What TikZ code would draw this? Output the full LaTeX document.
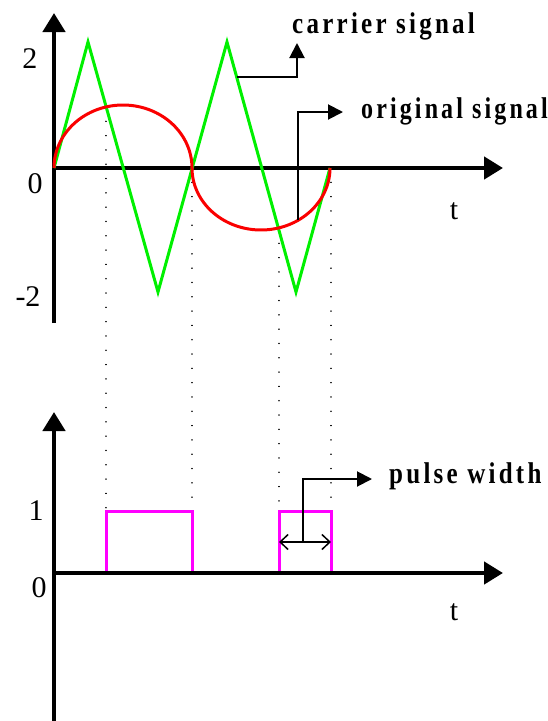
\documentclass[tikz,border=0pt]{standalone}
\usepackage{fontspec}
\setmainfont{Liberation Serif}
\newfontfamily\lblfont{Liberation Serif}[LetterSpace=13]
\usetikzlibrary{arrows.meta}
\definecolor{sigGreen}{RGB}{0,240,0}
\definecolor{sigRed}{RGB}{250,0,0}
\definecolor{sigMag}{RGB}{255,0,255}
\begin{document}
\begin{tikzpicture}[x=1pt,y=-1pt,
  axis/.style={line width=4.5pt,-{Triangle[length=19pt,width=22pt]}},
  callout/.style={line width=2pt,-{Triangle[length=15pt,width=15pt]}},
  num/.style={inner sep=0pt,font=\fontsize{30}{30}\selectfont},
  lbl/.style={inner sep=0pt,anchor=base west,font=\fontsize{25}{25}\selectfont\lblfont\bfseries},
  guide/.style={line width=1.5pt,dash pattern=on 0.01pt off 14.3pt,line cap=round},
  carrierline/.style={line width=3pt,draw=sigGreen,line join=miter},
  origline/.style={line width=3pt,draw=sigRed},
  pulseline/.style={line width=3pt,draw=sigMag},
  widtharrow/.style={line width=1.5pt,{Straight Barb[length=8pt,width=15pt]}-{Straight Barb[length=8pt,width=15pt]}}
]
\useasboundingbox (0,0) rectangle (547,721);

% coordinates
\coordinate (o1) at (54,168);
\coordinate (y1top) at (54,13);
\coordinate (y1bot) at (54,323);
\coordinate (x1end) at (503,168);
\coordinate (o2) at (54,573);
\coordinate (y2top) at (54,412);
\coordinate (y2bot) at (54,721);
\coordinate (x2end) at (503,573);

% dotted guides
\draw[guide] (106,107) -- (106,511);
\draw[guide] (192,168) -- (192,511);
\draw[guide] (279,229) -- (279,510);
\draw[guide] (331,168) -- (331,510);

% pulses
\draw[pulseline] (106,573) -- (106,511) -- (192,511) -- (192,573);
\draw[pulseline] (279,573) -- (279,511) -- (331,511) -- (331,573);

% axes
\draw[axis] (y1bot) -- (y1top);
\draw[axis] (o1) -- (x1end);
\draw[axis] (y2bot) -- (y2top);
\draw[axis] (o2) -- (x2end);

% signals
\draw[carrierline] (54,168) -- (88,42) -- (158,292) -- (227,42) -- (296,292) -- (330,168);
\draw[origline] plot[domain=180:0,samples=80] ({123+69*cos(\x)},{168-63*sin(\x)})
  -- plot[domain=180:0,samples=80] ({261+69*cos(\x)},{168+62*sin(\x)});

% axis labels
\node[num] (l2) at (30,59) {2};
\node[num] (l0a) at (35,184) {0};
\node[num] (lm2) at (28,297) {-2};
\node[num] (ta) at (454,211) {t};
\node[num] (l1) at (36,511) {1};
\node[num] (l0b) at (39,588) {0};
\node[num] (tb) at (454,612) {t};

% callout labels
\node[lbl] (carrier) at (292,33) {\scalebox{1}[1.2]{carrier signal}};
\node[lbl,font=\fontsize{24}{24}\selectfont\lblfont\bfseries] (original) at (361,118) {\scalebox{1}[1.25]{original signal}};
\node[lbl] (pulse) at (389,483) {\scalebox{1}[1.2]{pulse width}};

% callouts
\coordinate (cs) at (236.5,77);
\coordinate (csTip) at (297,43);
\draw[callout] (cs) -| (csTip);
\coordinate (os) at (298,220);
\coordinate (osTip) at (343,112);
\draw[callout] (os) |- (osTip);
\coordinate (pwL) at (279,542);
\coordinate (pwR) at (331,542);
\coordinate (pwM) at (303,542);
\coordinate (pwTip) at (372,479);
\draw[widtharrow] (pwL) -- (pwR);
\draw[callout] (pwM) |- (pwTip);
\end{tikzpicture}
\end{document}
